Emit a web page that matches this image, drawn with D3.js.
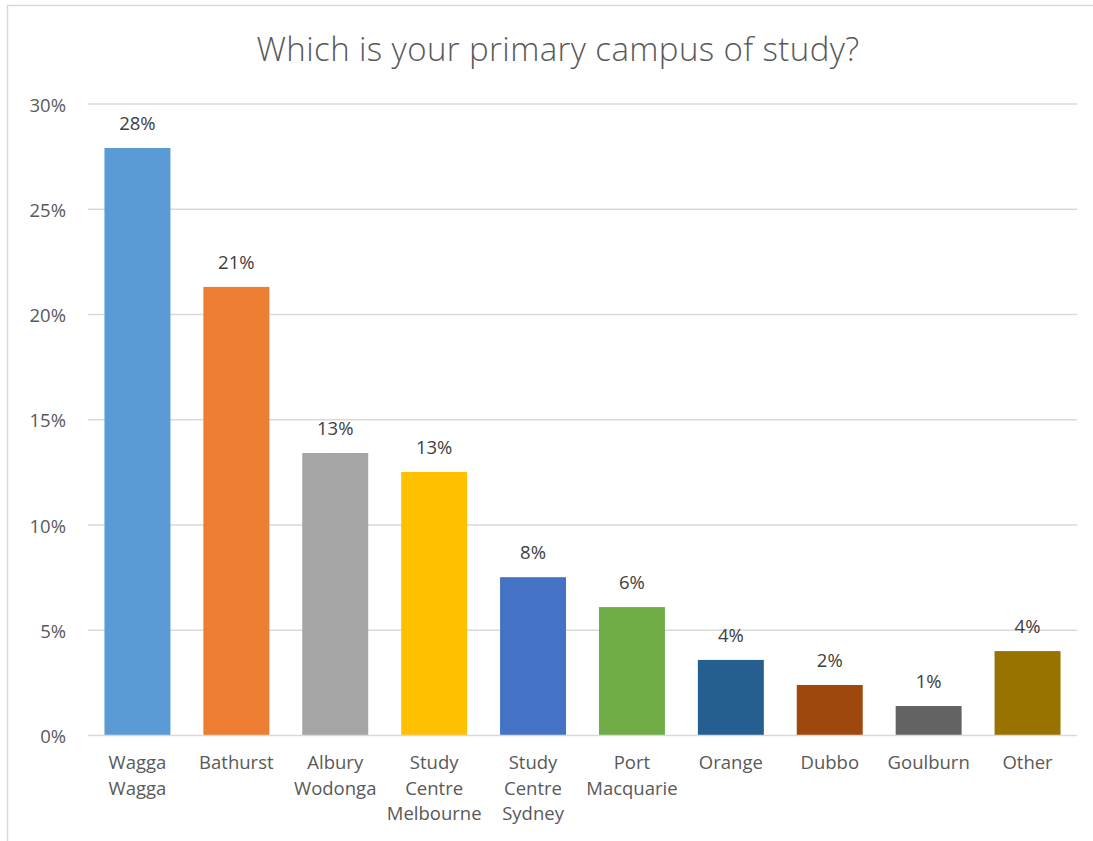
<!DOCTYPE html>
<html>
<head>
<meta charset="utf-8">
<script src="https://cdn.jsdelivr.net/npm/d3@7"></script>
<style>
  html, body { margin: 0; padding: 0; background: #fff; }
  svg { display: block; }
</style>
</head>
<body>
<svg id="chart" width="1093" height="841"></svg>
<script>
// Survey responses: primary campus of study (share of respondents)
const campuses = [
  ["Wagga", "Wagga"],
  ["Bathurst"],
  ["Albury", "Wodonga"],
  ["Study", "Centre", "Melbourne"],
  ["Study", "Centre", "Sydney"],
  ["Port", "Macquarie"],
  ["Orange"],
  ["Dubbo"],
  ["Goulburn"],
  ["Other"]
];
const shares = [0.2791, 0.2131, 0.1342, 0.1252, 0.0752, 0.0610, 0.0359, 0.0240, 0.0140, 0.0401];
const barColors = ["#5B9BD5", "#ED7D31", "#A5A5A5", "#FFC000", "#4472C4",
                   "#70AD47", "#255E91", "#9E480E", "#636363", "#997300"];
const yTicks = [0, 0.05, 0.10, 0.15, 0.20, 0.25, 0.30];
const title = "Which is your primary campus of study?";

const svg = d3.select("#chart");
const W = 1093, H = 841;
const plot = { left: 88, right: 1077, top: 104, bottom: 735.5 };
const textColor = "#595959";
const fontFamily = "'Open Sans', 'Noto Sans', sans-serif";
const fmt = d3.format(".0%");

// outer chart frame
svg.append("rect")
  .attr("x", 7.5).attr("y", 5.5)
  .attr("width", W + 10).attr("height", H + 10)
  .attr("fill", "#fff")
  .attr("stroke", "#D9D9D9").attr("stroke-width", 1.5);

const keys = campuses.map(d => d.join(" "));
const x = d3.scaleBand()
  .domain(keys)
  .range([plot.left, plot.right])
  .paddingInner(0.333)
  .paddingOuter(0.1665);

const y = d3.scaleLinear()
  .domain([0, 0.30])
  .range([plot.bottom, plot.top]);

// gridlines
svg.append("g")
  .selectAll("line")
  .data(yTicks.filter(t => t > 0))
  .join("line")
  .attr("x1", plot.left).attr("x2", plot.right)
  .attr("y1", d => y(d)).attr("y2", d => y(d))
  .attr("stroke", "#D9D9D9").attr("stroke-width", 1.3);

// y axis labels
const yAxis = d3.axisLeft(y)
  .tickValues(yTicks)
  .tickFormat(fmt)
  .tickSize(0)
  .tickPadding(0);
const gy = svg.append("g")
  .attr("transform", `translate(${66},0)`)
  .call(yAxis);
gy.select(".domain").remove();
gy.selectAll("text")
  .attr("dy", "0.38em")
  .attr("fill", textColor)
  .style("font-family", fontFamily)
  .style("font-size", "18.5px");

// bars
const data = keys.map((k, i) => ({ key: k, lines: campuses[i], value: shares[i], color: barColors[i] }));
svg.append("g")
  .selectAll("rect")
  .data(data)
  .join("rect")
  .attr("x", d => x(d.key))
  .attr("width", x.bandwidth())
  .attr("y", d => y(d.value))
  .attr("height", d => y(0) - y(d.value))
  .attr("fill", d => d.color);

// baseline
svg.append("line")
  .attr("x1", plot.left).attr("x2", plot.right)
  .attr("y1", y(0)).attr("y2", y(0))
  .attr("stroke", "#D9D9D9").attr("stroke-width", 1.5);

// value labels
svg.append("g")
  .selectAll("text")
  .data(data)
  .join("text")
  .attr("x", d => x(d.key) + x.bandwidth() / 2)
  .attr("y", d => y(d.value) - 18)
  .attr("text-anchor", "middle")
  .attr("fill", "#404040")
  .style("font-family", fontFamily)
  .style("font-size", "18.5px")
  .text(d => fmt(d.value));

// category labels (wrapped)
const cat = svg.append("g")
  .selectAll("text")
  .data(data)
  .join("text")
  .attr("x", d => x(d.key) + x.bandwidth() / 2)
  .attr("y", 769)
  .attr("text-anchor", "middle")
  .attr("fill", textColor)
  .style("font-family", fontFamily)
  .style("font-size", "18.5px");
cat.selectAll("tspan")
  .data(d => d.lines.map(l => ({ l, cx: x(d.key) + x.bandwidth() / 2 })))
  .join("tspan")
  .attr("x", d => d.cx)
  .attr("dy", (d, i) => i === 0 ? 0 : 25.7)
  .text(d => d.l);

// title
svg.append("text")
  .attr("x", 558)
  .attr("y", 61)
  .attr("text-anchor", "middle")
  .attr("fill", textColor)
  .style("font-family", fontFamily)
  .style("font-size", "33px")
  .style("font-weight", 300)
  .style("letter-spacing", "0.4px")
  .text(title);
</script>
</body>
</html>
